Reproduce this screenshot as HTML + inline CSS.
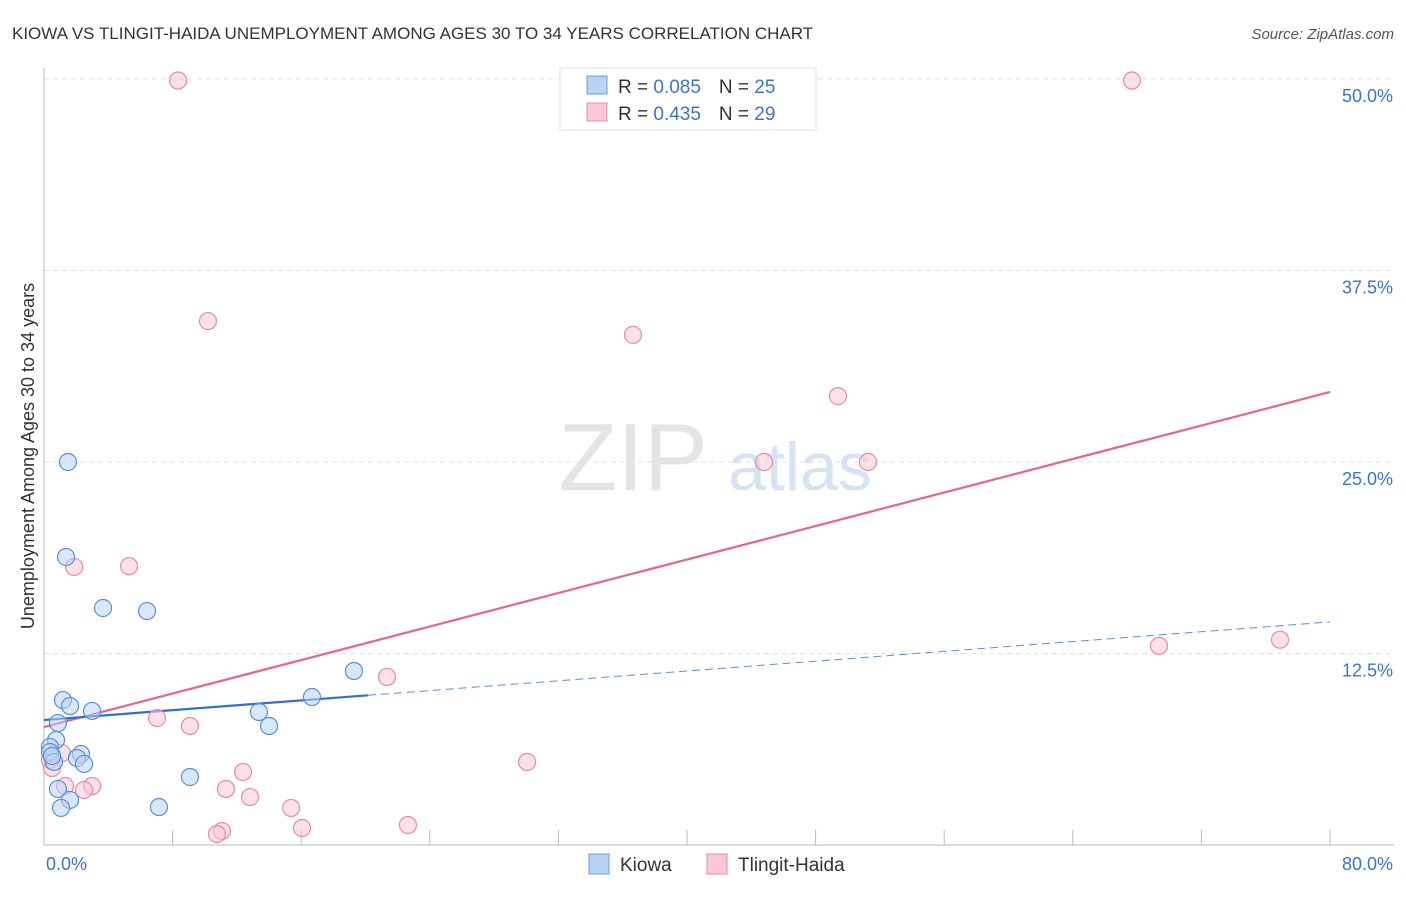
<!DOCTYPE html>
<html><head><meta charset="utf-8"><style>
body{margin:0;background:#fff;font-family:"Liberation Sans",sans-serif}
svg text{font-family:"Liberation Sans",sans-serif}
</style></head><body>
<svg width="1406" height="892" id="c">
<text x="12" y="39" font-size="17" fill="#333">KIOWA VS TLINGIT-HAIDA UNEMPLOYMENT AMONG AGES 30 TO 34 YEARS CORRELATION CHART</text>
<text x="1394" y="39" font-size="15" fill="#555" font-style="italic" text-anchor="end">Source: ZipAtlas.com</text>
<text x="633" y="490" font-size="96" fill="#e4e4e4" font-family="Liberation Serif" text-anchor="middle">ZIP</text>
<text x="800" y="490" font-size="68" fill="#d5e3f5" text-anchor="middle">atlas</text>
<g id="grid"></g>
<line x1="44" y1="68" x2="44" y2="845" stroke="#bbb"/>
<line x1="44" y1="845" x2="1394" y2="845" stroke="#bbb"/>
<text transform="translate(34,456) rotate(-90)" font-size="18" fill="#333" text-anchor="middle">Unemployment Among Ages 30 to 34 years</text>
<text x="46" y="870" font-size="18" fill="#3b73d1">0.0%</text>
<text x="1393" y="870" font-size="18" fill="#3b73d1" text-anchor="end">80.0%</text>
<g id="lines"></g><g id="pts"></g>
<g>
<rect x="560" y="68" width="256" height="62" fill="#fff" stroke="#ddd"/>
<rect x="587" y="76" width="20" height="18" fill="#b9d3f5" stroke="#6a9be0"/>
<rect x="587" y="103" width="20" height="18" fill="#f9c8d6" stroke="#e88aa8"/>
<text x="618" y="93" font-size="19" fill="#333">R = <tspan fill="#3b73d1">0.085</tspan><tspan dx="18">N = </tspan><tspan fill="#3b73d1">25</tspan></text>
<text x="618" y="120" font-size="19" fill="#333">R = <tspan fill="#3b73d1">0.435</tspan><tspan dx="18">N = </tspan><tspan fill="#3b73d1">29</tspan></text>
</g>
<g>
<rect x="589" y="854" width="20" height="20" fill="#b9d3f5" stroke="#6a9be0"/>
<text x="620" y="871" font-size="19" fill="#333">Kiowa</text>
<rect x="707" y="854" width="20" height="20" fill="#f9c8d6" stroke="#e88aa8"/>
<text x="738" y="871" font-size="19" fill="#333">Tlingit-Haida</text>
</g>
</svg>
<script>
const yTicks=[12.5,25,37.5,50];
const yTickLabels=["12.5%","25.0%","37.5%","50.0%"];
const xTicks=[8,16,24,32,40,48,56,64,72,80];
const kiowaX=[1.49,1.37,3.67,6.41,19.28,16.67,1.18,1.62,2.99,13.37,14.0,0.87,0.75,0.37,0.37,2.30,2.05,2.49,0.62,9.08,0.87,1.62,1.06,7.15,0.50];
const kiowaY=[25.0,18.8,15.47,15.27,11.36,9.66,9.46,9.07,8.75,8.68,7.77,7.96,6.85,6.40,6.07,5.94,5.68,5.29,5.42,4.44,3.66,2.94,2.42,2.48,5.81];
const tlingitX=[8.34,67.68,10.2,36.64,49.39,44.79,51.26,1.87,5.29,69.36,76.89,21.34,7.03,9.08,1.12,0.37,0.5,1.31,2.99,2.49,12.38,11.32,12.82,15.37,30.05,22.64,16.05,11.07,10.76];
const tlingitY=[49.9,49.9,34.2,33.3,29.3,25.0,25.0,18.15,18.2,13.0,13.4,10.97,8.29,7.77,6.0,5.55,5.03,3.85,3.85,3.59,4.77,3.66,3.13,2.42,5.42,1.31,1.11,0.91,0.72];
const kiowaTrend=[8.16,14.56]; const kiowaSolidEnd=20.15;
const tlingitTrend=[7.70,29.57];
const NS="http://www.w3.org/2000/svg";
const sx=v=>44+v*16.075, sy=v=>845-v*15.32;
function mk(t,a,p){const e=document.createElementNS(NS,t);for(const k in a)e.setAttribute(k,a[k]);document.getElementById(p).appendChild(e);return e;}
yTicks.forEach((v,i)=>{
 const l=mk('line',{x1:44,x2:1394,y1:sy(v),y2:sy(v),stroke:'#e2e2e2','stroke-dasharray':'5,4'},'grid');
 
 
 const t=mk('text',{x:1393,y:sy(v)+23,'font-size':18,fill:'#3b73d1','text-anchor':'end'},'grid');
 t.textContent=yTickLabels[i];
 
 
});
xTicks.forEach(v=>{
 const l=mk('line',{x1:sx(v),x2:sx(v),y1:830,y2:845,stroke:'#bbb'},'grid');
 
 
});
function pts(X,Y,fill,stroke,name){X.forEach((x,i)=>{
 const c=mk('circle',{cx:sx(x),cy:sy(Y[i]),r:8.5,fill:fill,'fill-opacity':0.55,stroke:stroke,'stroke-width':1.2},'pts');
 
 
});}
pts(tlingitX,tlingitY,'#f9c8d6','#e88aa8','tlingit-point');
pts(kiowaX,kiowaY,'#b9d3f5','#5a8fdc','kiowa-point');
const ky=x=>kiowaTrend[0]+(kiowaTrend[1]-kiowaTrend[0])*x/80;
let a=mk('line',{x1:sx(0),y1:sy(tlingitTrend[0]),x2:sx(80),y2:sy(tlingitTrend[1]),stroke:'#e8648f','stroke-width':2.2},'lines');


a=mk('line',{x1:sx(0),y1:sy(ky(0)),x2:sx(kiowaSolidEnd),y2:sy(ky(kiowaSolidEnd)),stroke:'#2f6fd3','stroke-width':2.2},'lines');


a=mk('line',{x1:sx(kiowaSolidEnd),y1:sy(ky(kiowaSolidEnd)),x2:sx(80),y2:sy(ky(80)),stroke:'#5a8fdc','stroke-width':1,'stroke-dasharray':'8,5'},'lines');


</script>
</body></html>
